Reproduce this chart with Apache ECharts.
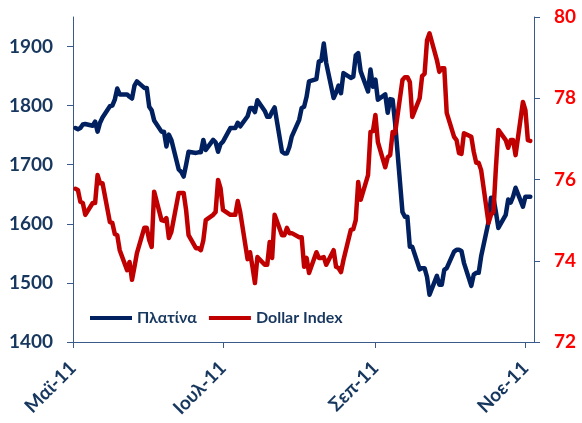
<!DOCTYPE html>
<html>
<head>
<meta charset="utf-8">
<script src="https://cdn.jsdelivr.net/npm/echarts@6/dist/echarts.min.js"></script>
<style>
  html, body { margin: 0; padding: 0; background: #ffffff; }
  #chart { width: 582px; height: 423px; }
</style>
</head>
<body>
<div id="chart"></div>
<script>
// Daily closes, one row per trading week (Mon..Fri), 2 May 2011 - 3 Nov 2011
const platinum = [
  1762, 1760, 1762, 1768, 1769,
  1766, 1773, 1756, 1771, 1780,
  1799, 1800, 1810, 1829, 1819,
  1819, 1815, 1812, 1834, 1841,
  1830, 1830, 1798, 1792, 1775,
  1756, 1756, 1731, 1751, 1742,
  1692, 1688, 1680, 1700, 1722,
  1720, 1721, 1721, 1742, 1725,
  1742, 1738, 1722, 1735, 1739,
  1762, 1762, 1762, 1771, 1765,
  1782, 1796, 1796, 1789, 1809,
  1791, 1781, 1781, 1790, 1797,
  1722, 1719, 1719, 1730, 1748,
  1776, 1796, 1798, 1815, 1841,
  1845, 1875, 1876, 1905, 1872,
  1813, 1822, 1834, 1821, 1855,
  1847, 1849, 1885, 1889, 1858,
  1824, 1861, 1832, 1844, 1810,
  1819, 1788, 1811, 1810, 1771,
  1620, 1612, 1612, 1561, 1561,
  1523, 1525, 1525, 1510, 1480,
  1512, 1497, 1497, 1522, 1525,
  1553, 1556, 1556, 1554, 1534,
  1495, 1514, 1517, 1517, 1545,
  1603, 1644, 1644, 1620, 1593,
  1615, 1641, 1636, 1646, 1661,
  1629, 1646, 1646, 1646
];

const dollarIndex = [
  75.77, 75.74, 75.45, 75.42, 75.13,
  75.42, 75.42, 76.11, 75.91, 75.91,
  74.95, 74.93, 74.66, 74.63, 74.26,
  73.77, 73.97, 73.53, 73.85, 74.19,
  74.81, 74.81, 74.51, 74.34, 75.70,
  75.00, 74.98, 75.05, 74.56, 74.71,
  75.67, 75.67, 75.67, 75.25, 74.63,
  74.31, 74.31, 74.26, 74.50, 75.00,
  75.13, 75.20, 75.99, 75.79, 75.25,
  75.13, 75.13, 75.13, 75.47, 75.20,
  74.04, 74.21, 73.85, 73.45, 74.09,
  73.90, 73.90, 74.46, 74.07, 75.13,
  74.63, 74.63, 74.81, 74.68, 74.68,
  74.58, 74.58, 73.85, 74.07, 73.70,
  74.21, 74.07, 74.07, 74.09, 73.90,
  74.26, 73.85, 73.82, 73.72, 74.02,
  74.76, 74.78, 75.00, 75.94, 75.50,
  76.11, 77.17, 77.19, 77.59, 76.92,
  76.30, 76.55, 76.60, 77.17, 77.14,
  78.45, 78.52, 78.52, 78.40, 77.54,
  78.00, 78.55, 78.60, 79.43, 79.60,
  78.94, 78.65, 78.74, 78.74, 77.64,
  77.05, 76.97, 76.65, 76.63, 77.14,
  77.05, 76.68, 76.41, 76.41, 76.23,
  74.93, 75.13, 75.20, 76.28, 77.22,
  76.97, 76.78, 76.97, 76.97, 76.60,
  77.91, 77.71, 76.97, 76.95
];

// Month ticks on the date axis (days counted from 1 May 2011)
const monthTicks = [0, 61, 123, 184];
const monthLabels = ['Μαϊ-11', 'Ιουλ-11', 'Σεπ-11', 'Νοε-11'];
const leftTicks = [1400, 1500, 1600, 1700, 1800, 1900];
const rightTicks = [72, 74, 76, 78, 80];

// Trading calendar: weekdays from 2 May 2011 onwards, one per data value
const origin = Date.UTC(2011, 4, 1);
const dayOffsets = [];
for (let t = Date.UTC(2011, 4, 2); dayOffsets.length < platinum.length; t += 86400000) {
  const wd = new Date(t).getUTCDay();
  if (wd !== 0 && wd !== 6) dayOffsets.push(Math.round((t - origin) / 86400000));
}

const axisColor = '#3B5A8C';
const navyText = '#17375E';
const fontFamily = 'Lato, "Open Sans", sans-serif';

const chart = echarts.init(document.getElementById('chart'), null, { renderer: 'canvas' });
chart.setOption({
  animation: false,
  backgroundColor: '#ffffff',
  grid: { left: 73, right: 48, top: 17, bottom: 81 },
  legend: {
    left: 85,
    top: 305,
    icon: 'rect',
    itemWidth: 42,
    itemHeight: 4,
    itemGap: 12,
    textStyle: { color: navyText, fontFamily: fontFamily, fontWeight: 'bold', fontSize: 16 },
    data: ['Πλατίνα', 'Dollar Index']
  },
  xAxis: {
    type: 'value',
    min: 0,
    max: 187.5,
    splitLine: { show: false },
    axisLine: { onZero: false, lineStyle: { color: axisColor, width: 1 } },
    axisTick: { show: true, length: 6, customValues: monthTicks, lineStyle: { color: axisColor } },
    axisLabel: {
      customValues: monthTicks,
      rotate: 45,
      margin: 23,
      color: navyText,
      fontFamily: fontFamily,
      fontWeight: 'bold',
      fontSize: 19,
      formatter: function (v) {
        const i = monthTicks.indexOf(Math.round(v));
        return i >= 0 ? monthLabels[i] : '';
      }
    }
  },
  yAxis: [
    {
      type: 'value',
      min: 1400,
      max: 1950,
      position: 'left',
      splitLine: { show: false },
      axisLine: { show: true, lineStyle: { color: axisColor, width: 1 } },
      axisTick: { show: true, length: 6, customValues: leftTicks, lineStyle: { color: axisColor } },
      axisLabel: {
        customValues: leftTicks,
        margin: 20,
        color: navyText,
        fontFamily: fontFamily,
        fontWeight: 'bold',
        fontSize: 19,
        formatter: function (v) { return String(Math.round(v)); }
      }
    },
    {
      type: 'value',
      min: 72,
      max: 80,
      position: 'right',
      splitLine: { show: false },
      axisLine: { show: true, lineStyle: { color: axisColor, width: 1 } },
      axisTick: { show: true, length: 6, customValues: rightTicks, lineStyle: { color: axisColor } },
      axisLabel: {
        customValues: rightTicks,
        margin: 20,
        color: '#FF0000',
        fontFamily: fontFamily,
        fontWeight: 'bold',
        fontSize: 19,
        formatter: function (v) { return String(Math.round(v)); }
      }
    }
  ],
  series: [
    {
      name: 'Πλατίνα',
      type: 'line',
      yAxisIndex: 0,
      showSymbol: false,
      symbol: 'none',
      lineStyle: { color: '#002060', width: 4.5, join: 'round', cap: 'round' },
      itemStyle: { color: '#002060' },
      data: dayOffsets.map((d, i) => [d, platinum[i]])
    },
    {
      name: 'Dollar Index',
      type: 'line',
      yAxisIndex: 1,
      showSymbol: false,
      symbol: 'none',
      lineStyle: { color: '#C00000', width: 4.5, join: 'round', cap: 'round' },
      itemStyle: { color: '#C00000' },
      data: dayOffsets.map((d, i) => [d, dollarIndex[i]])
    }
  ]
});
</script>
</body>
</html>
